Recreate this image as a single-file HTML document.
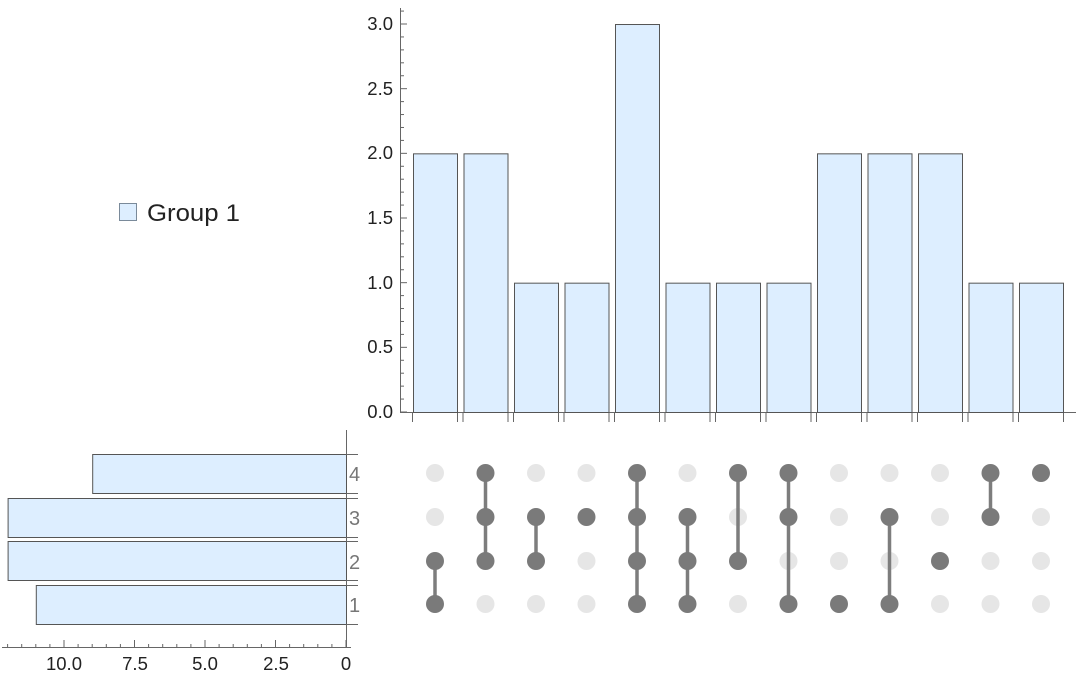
<!DOCTYPE html>
<html><head><meta charset="utf-8"><style>
html,body{margin:0;padding:0;background:#fff;}
svg{display:block;font-family:"Liberation Sans",sans-serif;}
</style></head><body>
<svg id="s" width="1080" height="680" viewBox="0 0 1080 680" xmlns="http://www.w3.org/2000/svg">
<g font-size="18.5" fill="#222" text-anchor="end">
<text x="393" y="418">0.0</text>
<text x="393" y="353">0.5</text>
<text x="393" y="289">1.0</text>
<text x="393" y="224">1.5</text>
<text x="393" y="159">2.0</text>
<text x="393" y="95">2.5</text>
<text x="393" y="30">3.0</text>
</g>
<g font-size="18.5" fill="#222" text-anchor="middle">
<text x="64" y="670">10.0</text>
<text x="135" y="670">7.5</text>
<text x="205" y="670">5.0</text>
<text x="276" y="670">2.5</text>
<text x="346" y="670">0</text>
</g>
<g font-size="20" fill="#777">
<text x="349" y="481">4</text>
<text x="349" y="525">3</text>
<text x="349" y="569">2</text>
<text x="349" y="612">1</text>
</g>
<rect x="119.5" y="203.5" width="17" height="17" fill="#ddeeff" stroke="#7a8a9a"/>
<text x="147" y="221" font-size="24" fill="#222" textLength="93" lengthAdjust="spacingAndGlyphs">Group 1</text>
</svg>
<script>
const s=document.getElementById('s');const NS='http://www.w3.org/2000/svg';
function el(t,a){const e=document.createElementNS(NS,t);for(const k in a)e.setAttribute(k,a[k]);s.appendChild(e);return e;}
const ax='#666';
el('line',{x1:400.5,y1:8,x2:400.5,y2:412,stroke:ax});
el('line',{x1:400,y1:412.5,x2:1076,y2:412.5,stroke:ax});
for(let i=0;i<=31;i++){const y=412-i*129.33/10;if(y<8)break;el('line',{x1:400,y1:y,x2:i%5==0?407:404,y2:y,stroke:ax});}
const vals=[2,2,1,1,3,1,1,1,2,2,2,1,1];
const cx=i=>435+i*50.5;
vals.forEach((v,i)=>{const h=v*129.33;el('rect',{x:cx(i)-22+.5,y:412-h+.5,width:44,height:h,fill:'#ddeeff',stroke:'#555'});
el('line',{x1:cx(i)-22.5,y1:413,x2:cx(i)-22.5,y2:422,stroke:ax});el('line',{x1:cx(i)+22.5,y1:413,x2:cx(i)+22.5,y2:422,stroke:ax});});
el('line',{x1:346.5,y1:430,x2:346.5,y2:648,stroke:ax});
el('line',{x1:2,y1:647.5,x2:351,y2:647.5,stroke:ax});
for(let v=0;v<=12;v+=0.5){const x=346-v*28.2;if(x<2)break;el('line',{x1:x,y1:647,x2:x,y2:v%2.5==0?640:644,stroke:ax});}
const rows=[[4,9,454],[3,12,498],[2,12,541],[1,11,585]];
rows.forEach(([r,v,y])=>{const w=v*28.2;el('rect',{x:346-w+.5,y:y+.5,width:w,height:39,fill:'#ddeeff',stroke:'#555'});
el('line',{x1:346,y1:y+.5,x2:358,y2:y+.5,stroke:ax});el('line',{x1:346,y1:y+39.5,x2:358,y2:y+39.5,stroke:ax});});
const ry={4:473,3:517,2:561,1:604};
const sets=[[2,1],[4,3,2],[3,2],[3],[4,3,2,1],[3,2,1],[4,2],[4,3,1],[1],[3,1],[2],[4,3],[4]];
sets.forEach((st,i)=>{const x=cx(i);
[1,2,3,4].forEach(r=>{if(!st.includes(r))el('circle',{cx:x,cy:ry[r],r:9,fill:'#e6e6e6'});});
if(st.length>1){const ys=st.map(r=>ry[r]);el('line',{x1:x,y1:Math.min(...ys),x2:x,y2:Math.max(...ys),stroke:'#7d7d7d','stroke-width':3.5});}
st.forEach(r=>el('circle',{cx:x,cy:ry[r],r:9,fill:'#7a7a7a'}));});
</script>
</body></html>
